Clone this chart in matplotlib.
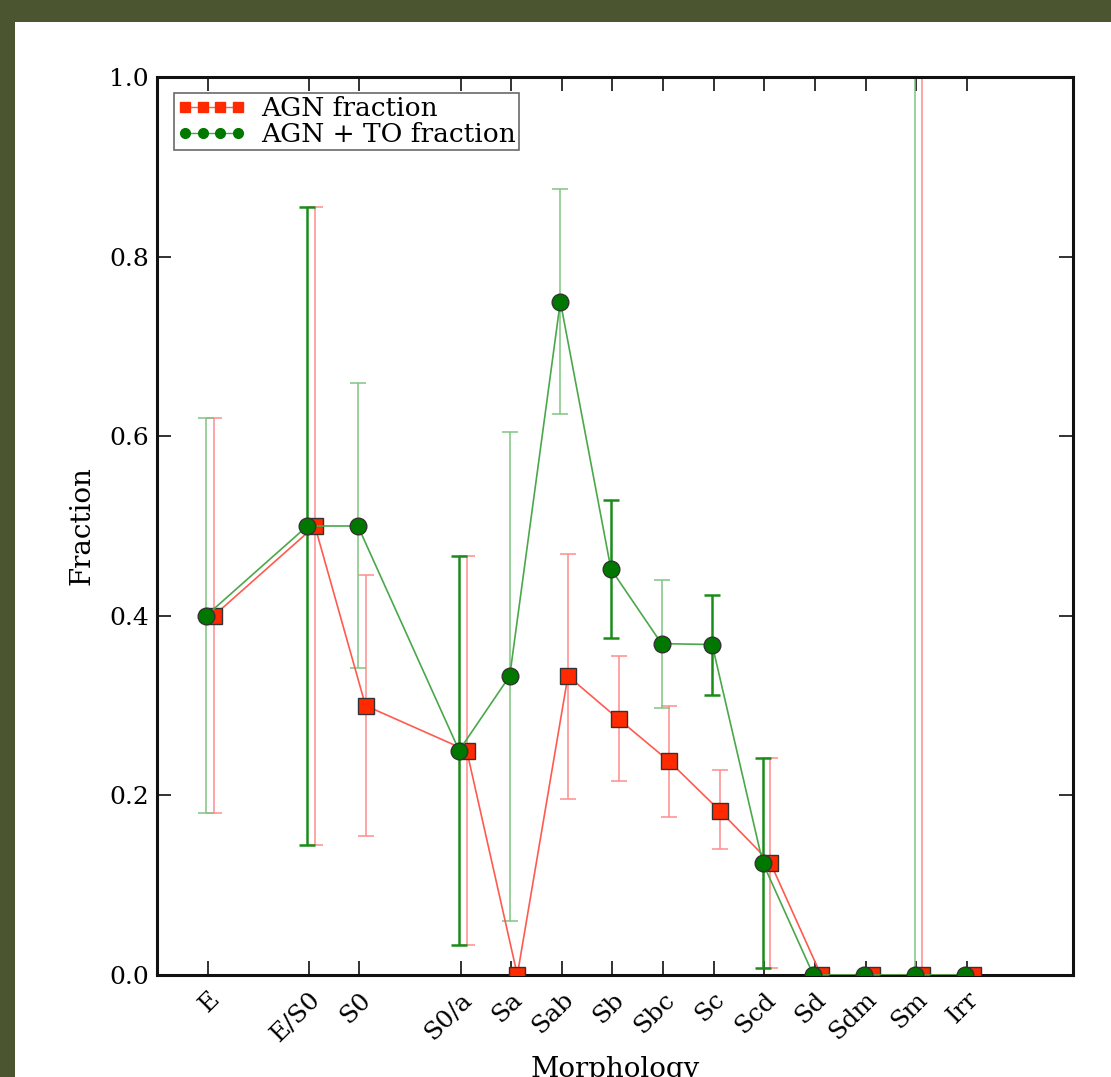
import numpy as np
import matplotlib
matplotlib.use('Agg')
import matplotlib.pyplot as plt
from matplotlib.patches import Rectangle
from matplotlib.lines import Line2D

# morphology classes and where they sit on the x axis
morph_labels = ['E', 'E/S0', 'S0', 'S0/a', 'Sa', 'Sab', 'Sb', 'Sbc',
                'Sc', 'Scd', 'Sd', 'Sdm', 'Sm', 'Irr']
morph_pos = [1, 3, 4, 6, 7, 8, 9, 10, 11, 12, 13, 14, 15, 16]

# AGN fraction with lower / upper bounds
agn_frac = [0.40, 0.50, 0.30, 0.25, 0.0, 0.333, 0.285, 0.238, 0.183, 0.125, 0.0, 0.0, 0.0, 0.0]
agn_lo = [0.18, 0.145, 0.155, 0.033, 0.0, 0.196, 0.216, 0.176, 0.140, 0.008, 0.0, 0.0, 0.0, 0.0]
agn_hi = [0.62, 0.855, 0.445, 0.467, 0.0, 0.469, 0.355, 0.300, 0.228, 0.242, 0.0, 0.0, 1.0, 0.0]

# AGN + TO fraction with lower / upper bounds
agnto_frac = [0.40, 0.50, 0.50, 0.25, 0.333, 0.75, 0.452, 0.369, 0.368, 0.125, 0.0, 0.0, 0.0, 0.0]
agnto_lo = [0.18, 0.145, 0.342, 0.033, 0.060, 0.625, 0.375, 0.297, 0.312, 0.008, 0.0, 0.0, 0.0, 0.0]
agnto_hi = [0.62, 0.855, 0.659, 0.467, 0.605, 0.875, 0.529, 0.440, 0.423, 0.242, 0.0, 0.0, 1.0, 0.0]

bold_green = ['E/S0', 'S0/a', 'Sb', 'Sc', 'Scd']

plt.rcParams['font.family'] = ['DejaVu Serif']

W, H = 1111, 1077
fig = plt.figure(figsize=(W / 100, H / 100), dpi=100, facecolor='#4b5530')
fig.patches.append(Rectangle((15 / W, 0), 1 - 15 / W, 1 - 22 / H,
                             transform=fig.transFigure, facecolor='white',
                             edgecolor='none', zorder=-10))

ax = fig.add_axes([157 / W, 1 - 975 / H, (1073 - 157) / W, (975 - 77) / H])
ax.set_facecolor('white')

pos = np.array(morph_pos, dtype=float)
red_x = pos + 0.12
green_x = pos - 0.03


def draw_err(x, val, lo, hi, mask, color, lw, z):
    x = np.asarray(x)[mask]
    val = np.asarray(val)[mask]
    lo = np.asarray(lo)[mask]
    hi = np.asarray(hi)[mask]
    ax.errorbar(x, val, yerr=[val - lo, hi - val], fmt='none', ecolor=color,
                elinewidth=lw, capsize=6, capthick=lw, zorder=z)


agn_mask = np.array(agn_hi) > np.array(agn_lo)
draw_err(red_x, agn_frac, agn_lo, agn_hi, agn_mask, '#ff8c8c', 1.1, 2)

bold = np.array([m in bold_green for m in morph_labels])
gmask = np.array(agnto_hi) > np.array(agnto_lo)
draw_err(green_x, agnto_frac, agnto_lo, agnto_hi, gmask & ~bold, '#80c480', 1.1, 2)
draw_err(green_x, agnto_frac, agnto_lo, agnto_hi, gmask & bold, '#1a8c1a', 1.8, 2)

ax.plot(red_x, agn_frac, '-', color='#ff5a50', lw=1.2, zorder=3)
ax.plot(red_x, agn_frac, 's', color='#ff2a00', mec='#333333', mew=1.0, ms=12,
        zorder=4)
ax.plot(green_x, agnto_frac, '-', color='#4aa84a', lw=1.2, zorder=5)
ax.plot(green_x, agnto_frac, 'o', color='#007800', mec='#333333', mew=1.0, ms=12,
        zorder=6)

# legend proxies with the 4-marker look
h1 = Line2D([], [], color='#ff5a50', lw=1, marker='s', ms=7, mfc='#ff2a00',
            mec='#ff2a00')
h2 = Line2D([], [], color='#4aa84a', lw=1, marker='o', ms=7, mfc='#007800',
            mec='#007800')
leg = ax.legend([h1, h2], ['AGN fraction', 'AGN + TO fraction'], loc='upper left',
                bbox_to_anchor=(0.019, 0.982), numpoints=4, fontsize=19,
                frameon=True, fancybox=False, edgecolor='#444444',
                borderpad=0.1, labelspacing=0.05, handlelength=2.6,
                handletextpad=0.6, borderaxespad=0.0)
leg.get_frame().set_linewidth(1.2)

ax.set_xlim(0, 18.1)
ax.set_ylim(0, 1.0)
ax.set_xticks(morph_pos)
ax.set_xticklabels(morph_labels, rotation=45, ha='right', va='top',
                   rotation_mode='anchor', fontsize=18)
ax.set_yticks([0.0, 0.2, 0.4, 0.6, 0.8, 1.0])
ax.set_yticklabels(['0.0', '0.2', '0.4', '0.6', '0.8', '1.0'], fontsize=18)
ax.tick_params(axis='both', direction='in', length=10, width=1.3,
               top=True, right=True, color='#222222')
ax.tick_params(axis='x', pad=9)
ax.tick_params(axis='y', pad=6)
for s in ax.spines.values():
    s.set_linewidth(2.2)
    s.set_color('#111111')

ax.set_ylabel('Fraction', fontsize=20, labelpad=10)
fig.text(615 / W, 0.0, 'Morphology', fontsize=20, ha='center', va='baseline')

fig.savefig('out.png', dpi=100, facecolor=fig.get_facecolor())
